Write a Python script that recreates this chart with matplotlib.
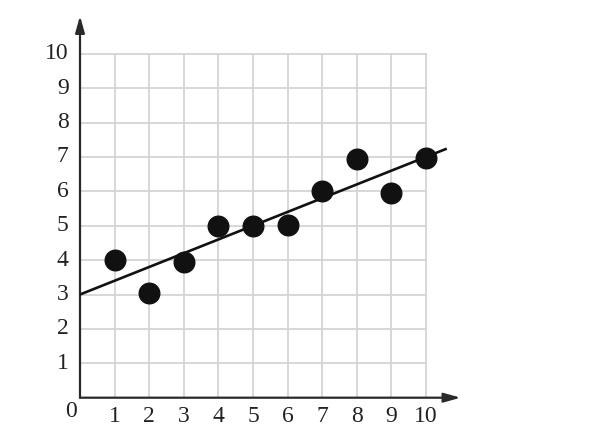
import matplotlib.pyplot as plt
import numpy as np

# datos
x_pts = [1, 2, 3, 4, 5, 6, 7, 8, 9, 10]
y_pts = [4.0, 3.05, 3.95, 5.0, 5.0, 5.03, 6.0, 6.95, 5.95, 6.97]
recta_x = [0, 10.6]
intercepto = 3.0
pendiente = 0.4
marcas = list(range(1, 11))

plt.rcParams['font.family'] = ['Liberation Serif', 'DejaVu Serif']

fig = plt.figure(figsize=(6, 4.47), dpi=100)
# eje colocado en pixeles: origen en (80, 397.7), 34.6 px por unidad en x, 34.4 en y
ax = fig.add_axes([80 / 600, (447 - 397.7) / 447, 11.4 * 34.6 / 600, 11.4 * 34.4 / 447])
ax.set_xlim(0, 11.4)
ax.set_ylim(0, 11.4)
ax.axis('off')

# cuadricula
for v in marcas:
    ax.plot([v, v], [0, 10], color='#d4d4d4', lw=1.3, zorder=1)
    ax.plot([0, 10], [v, v], color='#d4d4d4', lw=1.3, zorder=1)

# ejes con flechas
flecha = dict(arrowstyle='-|>,head_length=1.0,head_width=0.28', color='#2a2a2a', lw=1.6,
              shrinkA=0, shrinkB=0)
ax.annotate('', xy=(11.0, 0), xytext=(0, 0), arrowprops=flecha, annotation_clip=False)
ax.annotate('', xy=(0, 11.1), xytext=(0, 0), arrowprops=flecha, annotation_clip=False)

# etiquetas
for v in marcas:
    ax.text(v, -0.55, str(v), ha='center', va='center', fontsize=17, color='#222222')
    ax.text(-0.33, v, str(v), ha='right', va='center', fontsize=17, color='#222222')
ax.text(-0.25, -0.4, '0', ha='center', va='center', fontsize=17, color='#222222')

# recta de ajuste
rx = np.array(recta_x)
ax.plot(rx, intercepto + pendiente * rx, color='#111111', lw=1.9, zorder=3,
        solid_capstyle='butt', clip_on=False)

# puntos
ax.scatter(x_pts, y_pts, s=220, color='#111111', zorder=4, clip_on=False)

fig.savefig('out.png', dpi=100)
